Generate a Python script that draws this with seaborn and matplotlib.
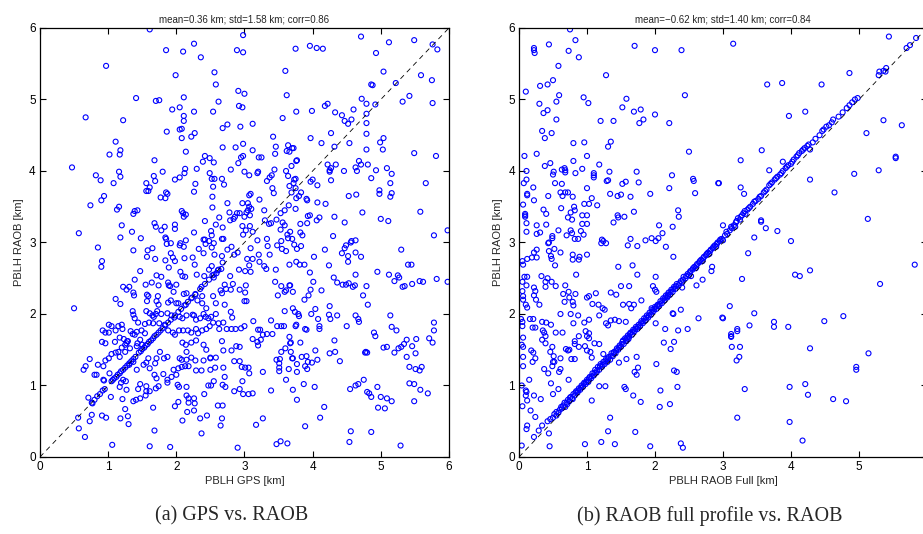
import numpy as np
import pandas as pd
import matplotlib
matplotlib.use('Agg')
import matplotlib.pyplot as plt
import seaborn as sns

# values, (x, y) in km

# panel (a) GPS vs RAOB
gps_upper_left = [
    (1.61, 5.98), (2.98, 5.90), (2.26, 5.78), (1.85, 5.69), (2.10, 5.67), (2.89, 5.69), (2.98, 5.66),
    (2.36, 5.59), (0.97, 5.47), (2.56, 5.38), (1.99, 5.34), (2.58, 5.21), (2.91, 5.12), (3.00, 5.08),
    (1.41, 5.02), (2.11, 5.03), (1.70, 4.98), (1.75, 4.99), (2.62, 4.97), (2.92, 4.91), (2.97, 4.89),
    (1.94, 4.86), (2.05, 4.89), (2.26, 4.83), (2.54, 4.83), (0.67, 4.75), (1.22, 4.71), (2.11, 4.77),
    (2.11, 4.70), (2.75, 4.65), (2.68, 4.60), (2.94, 4.62), (2.05, 4.58), (2.08, 4.59), (1.86, 4.55),
    (2.27, 4.53), (2.22, 4.48), (2.08, 4.46), (1.11, 4.41), (2.98, 4.38), (2.68, 4.33), (2.87, 4.33),
    (1.18, 4.29), (1.02, 4.23), (1.17, 4.23), (2.14, 4.27), (2.42, 4.21), (2.49, 4.18), (2.95, 4.19),
    (2.98, 4.21), (1.68, 4.15), (2.39, 4.13), (2.55, 4.12), (2.91, 4.11), (0.47, 4.05), (2.80, 4.02),
    (3.00, 3.99), (2.13, 4.03), (2.30, 4.03), (1.80, 3.99), (2.12, 3.97), (2.49, 3.97), (0.82, 3.94),
    (1.16, 3.99), (1.18, 3.92), (1.67, 3.93), (2.52, 3.89), (2.56, 3.89), (2.67, 3.89), (0.89, 3.87),
    (1.69, 3.86), (1.98, 3.88), (2.05, 3.91), (1.08, 3.83), (1.56, 3.83), (2.28, 3.82), (2.70, 3.81),
    (1.61, 3.77), (2.54, 3.78), (1.56, 3.72), (1.59, 3.72), (1.85, 3.70), (1.87, 3.68), (2.26, 3.71),
    (0.94, 3.65), (0.90, 3.59), (1.77, 3.63), (1.84, 3.62), (2.53, 3.64), (0.74, 3.52), (1.16, 3.50),
    (1.13, 3.46), (2.75, 3.55), (2.97, 3.55), (2.53, 3.49), (1.39, 3.44), (1.43, 3.45), (1.37, 3.40),
    (2.08, 3.44), (2.10, 3.41), (2.14, 3.39), (2.11, 3.36), (2.78, 3.42), (2.89, 3.41), (2.93, 3.41),
    (2.86, 3.36), (2.84, 3.33), (2.79, 3.31), (2.63, 3.35), (3.00, 3.36), (2.42, 3.30), (2.58, 3.25),
    (1.68, 3.27), (1.70, 3.22), (1.83, 3.22), (1.98, 3.25), (1.98, 3.19), (1.20, 3.24), (1.35, 3.15),
    (1.78, 3.17), (2.26, 3.14), (2.51, 3.16), (2.52, 3.10), (2.68, 3.21), (2.97, 3.23), (2.98, 3.11),
    (0.57, 3.13), (1.18, 3.07), (1.48, 3.06), (1.84, 3.07), (1.85, 3.05), (2.14, 3.03), (2.40, 3.04),
    (2.42, 3.04), (2.67, 3.05), (2.69, 3.05), (1.92, 2.99), (2.06, 2.99), (2.48, 3.02), (2.55, 2.99),
]
gps_upper_right = [
    (4.71, 5.88), (5.12, 5.80), (5.49, 5.83), (5.76, 5.77), (5.83, 5.70), (3.96, 5.75), (4.06, 5.72),
    (4.15, 5.71), (3.75, 5.71), (4.93, 5.65), (3.60, 5.40), (5.04, 5.39), (5.59, 5.34), (5.75, 5.27),
    (4.86, 5.21), (4.88, 5.20), (5.22, 5.23), (3.62, 5.06), (4.72, 5.01), (5.42, 5.05), (5.32, 4.97),
    (5.76, 4.95), (4.79, 4.94), (4.92, 4.93), (4.22, 4.94), (4.18, 4.91), (4.60, 4.86), (3.76, 4.83),
    (3.99, 4.84), (4.33, 4.82), (4.43, 4.78), (4.79, 4.80), (3.56, 4.74), (4.57, 4.72), (4.47, 4.70),
    (4.52, 4.66), (4.79, 4.67), (3.12, 4.66), (4.79, 4.52), (4.27, 4.53), (3.42, 4.48), (3.97, 4.46),
    (5.04, 4.46), (4.99, 4.40), (4.13, 4.39), (4.54, 4.39), (3.64, 4.36), (3.46, 4.34), (3.70, 4.32),
    (3.72, 4.32), (3.66, 4.27), (3.62, 4.28), (3.12, 4.29), (3.45, 4.24), (5.03, 4.30), (4.79, 4.30),
    (4.32, 4.34), (5.49, 4.25), (5.81, 4.21), (3.21, 4.19), (3.25, 4.19), (3.77, 4.15), (3.76, 4.14),
    (3.69, 4.07), (4.68, 4.14), (4.71, 4.09), (4.22, 4.09), (4.34, 4.09), (4.63, 4.05), (4.81, 4.09),
    (4.27, 4.04), (4.25, 4.01), (4.25, 3.99), (4.46, 4.00), (4.65, 4.00), (5.09, 4.04), (4.93, 4.01),
    (3.20, 3.99), (3.19, 3.97), (3.07, 3.94), (3.61, 4.00), (3.44, 4.02), (3.40, 3.94), (3.37, 3.91),
    (3.33, 3.86), (3.64, 3.93), (3.73, 3.88), (3.75, 3.89), (3.72, 3.83), (4.00, 3.88), (3.97, 3.85),
    (4.27, 3.87), (4.86, 3.90), (5.16, 3.96), (5.14, 3.83), (5.66, 3.83), (4.07, 3.80), (3.66, 3.79),
    (3.41, 3.76), (3.75, 3.76), (3.43, 3.69), (3.69, 3.70), (3.83, 3.70), (4.98, 3.73), (4.98, 3.68),
    (5.16, 3.69), (5.14, 3.64), (4.53, 3.65), (4.64, 3.67), (3.76, 3.62), (3.80, 3.65), (3.91, 3.61),
    (3.92, 3.59), (4.07, 3.56), (4.19, 3.54), (3.65, 3.52), (3.75, 3.47), (3.59, 3.45), (3.53, 3.41),
    (3.29, 3.45), (3.22, 3.60), (3.07, 3.66), (3.09, 3.68), (4.32, 3.36), (3.96, 3.38), (3.93, 3.37),
    (4.10, 3.35), (4.06, 3.31), (3.47, 3.32), (3.39, 3.27), (3.36, 3.26), (3.30, 3.31), (3.56, 3.28),
    (3.59, 3.24), (3.82, 3.26), (3.92, 3.27), (4.47, 3.28), (4.73, 3.42), (5.00, 3.33), (5.11, 3.30),
    (5.58, 3.43), (3.53, 3.18), (3.67, 3.15), (3.82, 3.14), (3.85, 3.10), (3.63, 3.11), (3.64, 3.06),
    (3.70, 3.05), (3.12, 3.15), (3.08, 3.23), (3.02, 3.17), (4.30, 3.09), (3.33, 3.05), (3.19, 3.03),
    (3.54, 3.02), (4.57, 3.02), (4.63, 3.03), (5.78, 3.10), (5.98, 3.17), (3.05, 3.55), (3.07, 3.50),
    (3.05, 3.45), (3.03, 3.42), (3.08, 3.38), (3.10, 3.47),
]
gps_lower_left = [
    (0.85, 2.93), (0.91, 2.74), (0.90, 2.66), (1.37, 2.89), (1.58, 2.89), (1.65, 2.92), (1.57, 2.80),
    (1.69, 2.77), (1.86, 2.98), (2.05, 2.96), (2.11, 2.94), (1.92, 2.85), (1.95, 2.79), (1.84, 2.75),
    (1.98, 2.74), (2.12, 2.78), (2.24, 2.79), (2.27, 2.69), (2.33, 2.91), (2.40, 2.85), (2.43, 2.98),
    (2.52, 2.93), (2.56, 2.83), (2.67, 2.81), (2.75, 2.90), (2.81, 2.94), (2.90, 2.86), (2.85, 2.83),
    (2.68, 2.72), (2.52, 2.67), (2.48, 2.62), (1.47, 2.60), (1.89, 2.65), (1.71, 2.54), (1.78, 2.52),
    (2.06, 2.59), (2.09, 2.53), (2.13, 2.52), (2.30, 2.55), (2.41, 2.53), (2.53, 2.54), (2.55, 2.51),
    (2.59, 2.57), (2.61, 2.61), (2.66, 2.63), (2.79, 2.53), (2.92, 2.62), (1.39, 2.48), (1.22, 2.38),
    (1.31, 2.38), (1.27, 2.34), (1.55, 2.41), (1.64, 2.44), (1.74, 2.40), (1.88, 2.44), (1.91, 2.39),
    (2.00, 2.41), (1.89, 2.40), (2.37, 2.38), (2.71, 2.41), (2.73, 2.35), (2.65, 2.33), (2.67, 2.29),
    (2.83, 2.42), (2.80, 2.34), (2.93, 2.34), (1.37, 2.30), (1.38, 2.26), (1.57, 2.27), (1.59, 2.25),
    (1.73, 2.25), (1.96, 2.31), (2.11, 2.28), (2.15, 2.29), (2.28, 2.27), (2.23, 2.23), (2.54, 2.25),
    (2.38, 2.25), (1.11, 2.21), (1.18, 2.14), (1.57, 2.18), (1.71, 2.18), (1.74, 2.13), (1.88, 2.16),
    (1.92, 2.19), (2.00, 2.15), (2.03, 2.15), (2.14, 2.13), (2.31, 2.19), (2.38, 2.15), (2.44, 2.08),
    (2.58, 2.15), (2.71, 2.13), (3.00, 2.18), (0.50, 2.08), (1.36, 2.04), (1.37, 1.99), (1.39, 1.94),
    (1.44, 1.88), (1.56, 2.04), (1.61, 2.01), (1.65, 1.98), (1.70, 2.00), (1.67, 1.96), (1.72, 2.04),
    (1.78, 2.00), (1.87, 2.01), (1.93, 1.98), (1.97, 1.95), (2.05, 1.96), (2.09, 1.94), (2.15, 1.98),
    (2.24, 1.99), (2.26, 1.98), (2.29, 1.92), (2.35, 1.94), (2.40, 2.00), (2.43, 1.96), (2.47, 1.94),
    (2.51, 1.96), (2.58, 2.00), (2.80, 2.03), (2.82, 1.95), (2.69, 1.88), (2.62, 1.87), (2.95, 1.80),
    (3.00, 1.83), (1.01, 1.85), (1.05, 1.83), (1.15, 1.83), (1.20, 1.85), (0.92, 1.77), (0.96, 1.74),
    (1.01, 1.74), (1.11, 1.77), (1.21, 1.79), (1.17, 1.67), (1.23, 1.65), (1.28, 1.62), (1.33, 1.76),
    (1.36, 1.72), (1.39, 1.71), (1.42, 1.75), (1.49, 1.77), (1.54, 1.73), (1.47, 1.64), (1.43, 1.59),
    (1.50, 1.57), (1.54, 1.86), (1.60, 1.88), (1.66, 1.87), (1.75, 1.87), (1.83, 1.85), (1.88, 1.77),
    (1.95, 1.74), (1.98, 1.71), (2.04, 1.77), (2.10, 1.77), (2.17, 1.77), (2.22, 1.74), (2.29, 1.79),
    (2.32, 1.73), (2.38, 1.77), (2.44, 1.79), (2.49, 1.83), (2.54, 1.88), (2.63, 1.79), (2.74, 1.79),
    (2.81, 1.79), (2.87, 1.79), (0.91, 1.61), (0.96, 1.59), (1.10, 1.61), (1.05, 1.44), (1.11, 1.46),
    (1.15, 1.47), (1.17, 1.40), (1.20, 1.53), (1.25, 1.57), (1.27, 1.59), (1.29, 1.62),
]
gps_lower_mid = [
    (0.73, 1.37), (0.67, 1.27), (0.64, 1.22), (0.85, 1.29), (0.93, 1.27), (0.96, 1.35), (1.01, 1.38),
    (0.80, 1.15), (0.83, 1.15), (0.93, 1.08), (0.94, 1.07), (1.02, 1.17), (1.17, 0.98), (1.19, 1.04),
    (1.26, 1.06), (1.22, 1.08), (1.27, 0.94), (1.04, 0.84), (1.21, 0.81), (1.37, 0.78), (1.41, 0.80),
    (1.47, 0.82), (1.44, 0.95), (1.47, 1.02), (1.56, 0.99), (1.56, 0.92), (1.55, 0.86), (1.61, 0.92),
    (1.66, 0.69), (1.70, 0.96), (1.74, 0.99), (1.68, 1.15), (1.71, 1.10), (1.81, 1.16), (1.87, 1.08),
    (1.87, 1.04), (1.93, 1.12), (2.00, 1.15), (2.02, 1.01), (2.04, 0.98), (2.15, 0.98), (2.15, 0.86),
    (2.18, 0.82), (2.18, 0.76), (2.03, 0.77), (1.98, 0.71), (2.26, 0.82), (2.27, 0.75), (2.26, 0.65),
    (2.16, 0.63), (2.09, 0.51), (2.35, 0.54), (2.45, 0.58), (2.41, 0.88), (2.47, 1.00), (2.51, 1.00),
    (2.55, 1.06), (2.61, 0.72), (2.68, 0.72), (2.67, 0.54), (2.65, 0.44), (2.68, 1.01), (2.72, 0.98),
    (2.85, 0.92), (2.93, 0.95), (2.98, 0.88), (2.97, 1.06), (1.96, 1.22), (2.03, 1.24), (2.08, 1.26),
    (2.13, 1.27), (2.18, 1.27), (2.08, 1.36), (2.05, 1.38), (2.15, 1.36), (2.29, 1.21), (2.37, 1.21),
    (2.50, 1.22), (2.57, 1.25), (2.69, 1.25), (2.71, 1.12), (2.58, 1.39), (2.50, 1.38), (2.40, 1.35),
    (2.28, 1.35), (2.22, 1.39), (2.15, 1.47), (2.09, 1.60), (2.14, 1.57), (2.22, 1.60), (2.29, 1.63),
    (2.40, 1.57), (2.44, 1.50), (2.50, 1.39), (2.67, 1.62), (2.69, 1.49), (2.81, 1.49), (2.88, 1.55),
    (2.85, 1.34), (2.93, 1.34), (2.96, 1.26), (2.93, 1.54), (1.71, 1.38), (1.76, 1.47), (1.82, 1.38),
    (1.87, 1.40), (1.59, 1.38), (1.56, 1.32), (1.52, 1.29), (1.42, 1.22), (1.61, 1.24), (1.69, 1.31),
    (1.37, 1.33), (1.31, 1.29), (1.42, 1.55), (1.32, 1.52), (1.25, 1.47), (0.56, 0.55), (0.57, 0.40),
    (0.66, 0.28), (0.73, 0.50), (0.76, 0.59), (0.71, 0.83), (0.77, 0.75), (0.91, 0.58), (0.97, 0.55),
    (1.18, 0.54), (1.29, 0.57), (1.30, 0.46), (1.25, 0.67), (1.61, 0.15), (1.68, 0.37), (1.91, 0.14),
    (1.06, 0.17), (2.37, 0.33), (2.90, 0.13),
]
gps_lower_right = [
    (3.09, 2.92), (3.04, 2.77), (3.12, 2.77), (3.21, 2.83), (3.22, 2.73), (3.07, 2.68), (3.29, 2.67),
    (3.32, 2.63), (3.01, 2.60), (3.09, 2.59), (3.34, 2.95), (3.37, 2.83), (3.48, 2.96), (3.55, 2.91),
    (3.61, 2.88), (3.73, 2.97), (3.77, 2.91), (3.83, 2.95), (3.66, 2.69), (3.76, 2.73), (3.81, 2.69),
    (3.88, 2.69), (3.46, 2.62), (4.02, 2.80), (4.18, 2.90), (4.24, 2.68), (4.47, 2.92), (4.49, 2.96),
    (4.43, 2.85), (4.52, 2.81), (4.52, 2.73), (4.63, 2.86), (4.71, 2.80), (4.56, 3.00), (3.96, 2.58),
    (4.31, 2.51), (4.36, 2.44), (4.44, 2.41), (4.49, 2.41), (4.53, 2.43), (4.59, 2.38), (4.62, 2.40),
    (4.63, 2.55), (4.79, 2.39), (4.95, 2.59), (5.12, 2.55), (5.25, 2.54), (5.27, 2.51), (5.20, 2.46),
    (5.30, 2.90), (5.40, 2.69), (5.45, 2.69), (5.32, 2.38), (5.35, 2.39), (5.46, 2.42), (5.57, 2.46),
    (5.62, 2.45), (5.82, 2.49), (5.98, 2.45), (3.66, 2.40), (3.61, 2.33), (3.59, 2.31), (3.71, 2.31),
    (3.67, 2.40), (3.45, 2.45), (3.49, 2.26), (3.54, 2.39), (3.88, 2.20), (3.94, 2.26), (3.97, 2.34),
    (4.01, 2.45), (4.13, 2.33), (3.71, 2.08), (3.74, 2.03), (3.79, 2.00), (3.80, 1.97), (3.59, 2.04),
    (3.98, 2.00), (4.04, 2.07), (4.08, 1.93), (4.10, 1.83), (4.10, 1.79), (4.25, 2.11), (4.24, 1.99),
    (4.26, 1.93), (4.36, 1.98), (4.50, 1.83), (4.63, 1.98), (4.67, 1.93), (4.68, 1.89), (4.74, 2.26),
    (4.81, 2.13), (5.14, 1.98), (5.16, 1.82), (5.23, 1.77), (4.90, 1.74), (4.92, 1.69), (5.78, 1.88),
    (5.78, 1.77), (5.71, 1.66), (5.76, 1.60), (5.52, 1.65), (5.38, 1.64), (5.34, 1.58), (5.30, 1.54),
    (5.26, 1.52), (5.20, 1.46), (5.46, 1.55), (5.38, 1.40), (5.51, 1.45), (5.04, 1.53), (5.09, 1.54),
    (4.77, 1.46), (4.80, 1.46), (5.42, 1.26), (5.51, 1.23), (5.57, 1.21), (5.60, 1.26), (5.42, 1.03),
    (5.49, 1.02), (5.58, 0.94), (5.69, 0.89), (5.49, 0.78), (3.13, 1.90), (3.20, 1.78), (3.23, 1.78),
    (3.12, 1.65), (3.19, 1.61), (3.20, 1.56), (3.24, 1.64), (3.27, 1.71), (3.33, 1.72), (3.41, 1.72),
    (3.39, 1.91), (3.48, 1.83), (3.54, 1.83), (3.58, 1.83), (3.66, 1.68), (3.68, 1.60), (3.67, 1.59),
    (3.75, 1.83), (3.76, 1.85), (3.82, 1.60), (3.89, 1.79), (3.91, 1.78), (3.60, 1.52), (3.68, 1.47),
    (3.70, 1.38), (3.77, 1.30), (3.77, 1.19), (3.84, 1.40), (3.91, 1.41), (3.93, 1.33), (3.99, 1.32),
    (4.04, 1.49), (4.07, 1.36), (3.89, 1.27), (3.92, 1.23), (3.47, 1.36), (3.52, 1.37), (3.51, 1.31),
    (3.51, 1.25), (3.51, 1.20), (3.65, 1.23), (3.54, 1.47), (3.71, 1.38), (3.27, 1.19), (3.07, 1.17),
    (3.06, 1.25), (3.01, 1.25), (3.12, 0.89), (3.06, 0.88), (3.39, 0.93), (3.61, 1.08), (3.71, 0.94),
    (3.87, 1.02), (4.03, 0.98), (3.77, 0.80), (4.17, 0.70), (4.11, 0.55), (3.89, 0.43), (3.27, 0.54),
    (3.17, 0.45), (3.47, 0.18), (3.53, 0.22), (3.63, 0.19), (4.32, 1.63), (4.25, 1.45), (4.33, 1.47),
    (4.40, 1.34), (4.78, 1.47), (4.55, 0.95), (4.63, 1.00), (4.67, 1.02), (4.75, 1.08), (4.80, 0.91),
    (4.83, 0.89), (4.86, 0.84), (4.95, 0.98), (5.00, 0.84), (5.09, 0.82), (5.16, 0.78), (4.96, 0.69),
    (5.06, 0.68), (4.56, 0.36), (4.54, 0.21), (4.86, 0.35), (5.29, 0.16), (3.02, 2.40), (3.01, 2.30),
    (3.03, 2.18),
]
gps_diag = [
    (0.76, 0.76), (0.80, 0.80), (0.84, 0.85), (0.88, 0.88), (0.92, 0.93), (0.95, 0.95), (1.05, 1.06),
    (1.07, 1.08), (1.09, 1.10), (1.12, 1.12), (1.14, 1.15), (1.17, 1.17), (1.19, 1.20), (1.22, 1.22),
    (1.25, 1.25), (1.28, 1.28), (1.31, 1.31), (1.34, 1.34), (1.37, 1.37), (1.40, 1.40), (1.45, 1.46),
    (1.48, 1.48), (1.50, 1.51), (1.53, 1.53), (1.55, 1.56), (1.58, 1.58), (1.60, 1.61), (1.63, 1.63),
    (1.66, 1.66), (1.68, 1.69), (1.71, 1.71), (1.74, 1.74), (1.77, 1.77), (1.80, 1.80), (1.84, 1.84),
    (1.88, 1.88), (1.92, 1.92), (1.98, 1.98), (2.03, 2.03), (2.07, 2.07), (2.12, 2.12), (2.17, 2.17),
    (2.22, 2.22), (2.28, 2.28), (2.35, 2.35), (2.42, 2.42), (2.48, 2.48), (2.55, 2.55), (2.62, 2.62),
]

# panel (b) RAOB full profile vs RAOB
full_upper = [
    (0.75, 5.98), (0.83, 5.83), (0.22, 5.72), (0.22, 5.69), (0.23, 5.65), (0.44, 5.77), (0.73, 5.68),
    (0.88, 5.59), (1.70, 5.75), (2.00, 5.69), (2.39, 5.69), (0.58, 5.47), (1.28, 5.34), (0.10, 5.11),
    (0.31, 5.19), (0.42, 5.21), (0.50, 5.27), (0.59, 5.06), (0.95, 5.03), (1.02, 4.95), (1.58, 5.01),
    (2.44, 5.06), (0.30, 4.94), (0.55, 4.97), (0.42, 4.85), (0.36, 4.81), (0.55, 4.72), (1.20, 4.70),
    (1.39, 4.70), (1.52, 4.89), (1.69, 4.83), (1.79, 4.86), (1.77, 4.67), (1.83, 4.72), (2.00, 4.79),
    (2.21, 4.67), (0.34, 4.56), (0.48, 4.53), (0.38, 4.46), (0.80, 4.39), (0.96, 4.40), (1.35, 4.41),
    (1.31, 4.34), (0.08, 4.21), (0.26, 4.24), (1.00, 4.21), (2.50, 4.27), (0.38, 4.07), (0.46, 4.11),
    (0.80, 4.14), (1.18, 4.09), (0.11, 4.00), (0.51, 3.99), (0.50, 3.95), (0.63, 4.02), (0.67, 4.04),
    (0.68, 4.01), (0.68, 3.98), (0.83, 3.97), (0.93, 4.03), (1.10, 3.97), (1.10, 3.94), (1.10, 3.91),
    (1.33, 3.99), (1.73, 3.99), (2.25, 3.94), (2.56, 3.89), (2.57, 3.86), (2.93, 3.83), (0.11, 3.88),
    (0.07, 3.83), (0.21, 3.77), (0.53, 3.83), (0.63, 3.82), (1.29, 3.86), (1.31, 3.87), (1.52, 3.82),
    (1.57, 3.85), (1.76, 3.84), (2.21, 3.76), (2.59, 3.69), (1.00, 3.76), (0.12, 3.66), (0.12, 3.68),
    (0.43, 3.65), (0.61, 3.70), (0.68, 3.70), (0.72, 3.70), (0.64, 3.65), (0.79, 3.64), (1.07, 3.62),
    (1.34, 3.68), (1.45, 3.65), (1.50, 3.67), (1.64, 3.64), (1.93, 3.68), (0.22, 3.59), (0.06, 3.53),
    (0.96, 3.54), (1.03, 3.54), (1.15, 3.52), (0.62, 3.48), (0.81, 3.50), (0.36, 3.46), (0.82, 3.45),
    (0.76, 3.42), (0.72, 3.35), (0.78, 3.32), (0.93, 3.38), (1.00, 3.38), (0.09, 3.40), (0.09, 3.38),
    (0.09, 3.36), (0.40, 3.40), (0.11, 3.27), (0.26, 3.24), (0.40, 3.25), (0.93, 3.26), (1.00, 3.26),
    (1.45, 3.38), (1.46, 3.35), (1.55, 3.36), (1.69, 3.43), (1.39, 3.28), (2.34, 3.45), (2.35, 3.36),
    (2.06, 3.24), (2.26, 3.22), (0.11, 3.15), (0.26, 3.12), (0.31, 3.14), (0.58, 3.17), (0.70, 3.10),
    (0.76, 3.17), (0.78, 3.13), (0.91, 3.16), (0.95, 3.11), (0.49, 3.09), (0.49, 3.06), (0.82, 3.05),
    (0.87, 3.05), (1.22, 3.04), (1.24, 3.02), (1.64, 3.05), (1.86, 3.03), (1.95, 3.06), (2.05, 3.06),
    (2.11, 3.13), (2.01, 3.02), (0.44, 3.00),
]
full_lower = [
    (0.05, 2.74), (0.06, 2.69), (0.12, 2.77), (0.19, 2.79), (0.22, 2.86), (0.26, 2.90), (0.26, 2.79),
    (0.43, 2.99), (0.47, 2.81), (0.48, 2.77), (0.44, 2.88), (0.52, 2.91), (0.61, 2.86), (0.53, 2.68),
    (0.79, 2.83), (0.79, 2.76), (0.89, 2.80), (0.88, 2.76), (1.00, 2.83), (0.84, 2.55), (1.21, 2.99),
    (1.28, 2.99), (1.60, 2.96), (1.74, 2.95), (1.46, 2.66), (1.67, 2.68), (1.74, 2.55), (2.16, 2.94),
    (2.27, 2.80), (2.01, 2.52), (0.08, 2.52), (0.12, 2.52), (0.05, 2.45), (0.11, 2.40), (0.22, 2.37),
    (0.24, 2.32), (0.22, 2.26), (0.25, 2.20), (0.05, 2.32), (0.06, 2.25), (0.06, 2.20), (0.10, 2.13),
    (0.12, 2.09), (0.30, 2.13), (0.33, 2.53), (0.39, 2.45), (0.42, 2.50), (0.39, 2.38), (0.48, 2.45),
    (0.54, 2.39), (0.68, 2.40), (0.65, 2.28), (0.73, 2.31), (0.83, 2.28), (0.67, 2.17), (0.79, 2.17),
    (0.74, 2.23), (0.80, 2.12), (1.00, 2.23), (1.03, 2.25), (1.13, 2.29), (1.08, 2.14), (1.17, 2.13),
    (1.23, 2.08), (1.35, 2.30), (1.43, 2.27), (1.50, 2.39), (1.62, 2.39), (1.53, 2.13), (1.62, 2.14),
    (1.69, 2.13), (1.65, 2.08), (1.80, 2.19), (1.95, 2.08), (1.97, 2.39), (2.00, 2.34), (2.02, 2.31),
    (2.19, 2.25), (2.27, 2.00), (2.38, 2.06), (0.61, 2.00), (0.76, 2.00), (0.87, 1.98), (1.18, 1.98),
    (1.26, 2.06), (1.03, 1.92), (0.96, 1.88), (0.80, 1.87), (0.98, 1.76), (1.03, 1.73), (1.28, 1.87),
    (1.35, 1.91), (1.41, 1.92), (1.47, 1.90), (1.57, 1.89), (1.31, 1.84), (0.03, 1.93), (0.05, 1.89),
    (0.05, 1.83), (0.16, 1.93), (0.21, 1.93), (0.20, 1.81), (0.24, 1.81), (0.34, 1.89), (0.40, 1.88),
    (0.47, 1.85), (0.35, 1.77), (0.37, 1.74), (0.39, 1.69), (0.34, 1.64), (0.39, 1.59), (0.54, 1.74),
    (0.64, 1.74), (0.06, 1.67), (0.04, 1.57), (0.06, 1.54), (0.18, 1.49), (0.21, 1.46), (0.24, 1.38),
    (0.20, 1.33), (0.06, 1.40), (0.06, 1.27), (0.49, 1.54), (0.46, 1.47), (0.51, 1.41), (0.52, 1.33),
    (0.61, 1.38), (0.69, 1.51), (0.72, 1.49), (0.74, 1.50), (0.77, 1.37), (0.82, 1.37), (0.88, 1.69),
    (0.82, 1.62), (0.82, 1.58), (0.88, 1.54), (1.00, 1.69), (1.03, 1.66), (0.97, 1.55), (1.00, 1.49),
    (1.05, 1.47), (1.07, 1.39), (1.11, 1.59), (1.18, 1.58), (1.24, 1.44), (0.61, 1.23), (0.37, 1.23),
    (0.59, 1.19), (0.43, 1.17), (0.50, 1.33), (0.49, 1.27), (0.15, 1.08), (0.04, 1.00), (0.10, 0.93),
    (0.11, 0.91), (0.22, 0.86), (0.10, 0.86), (0.12, 0.79), (0.32, 0.81), (0.47, 1.03), (0.50, 0.88),
    (0.58, 0.95), (0.73, 1.08), (0.05, 0.71), (0.17, 0.65), (0.24, 0.56), (0.12, 0.44), (0.11, 0.39),
    (0.22, 0.28), (0.29, 0.37), (0.34, 0.44), (0.44, 0.33), (0.45, 0.15), (0.04, 0.16), (0.97, 0.18),
    (1.21, 0.21), (1.41, 0.18), (1.07, 0.79), (1.18, 0.99), (1.27, 0.99), (1.34, 0.55), (1.31, 0.36),
    (1.55, 0.98), (1.57, 0.95), (1.47, 1.32), (1.58, 1.37), (1.73, 1.40), (1.70, 1.19), (1.73, 1.15),
    (1.75, 1.25), (1.71, 0.35), (1.68, 0.86), (1.79, 0.77), (1.93, 0.15), (2.02, 1.30), (2.08, 0.93),
    (2.07, 0.70), (2.22, 0.74), (2.13, 1.60), (2.23, 1.51), (2.28, 1.61), (2.28, 1.21), (2.33, 0.98),
    (2.32, 1.19), (2.15, 1.79), (2.34, 1.77), (2.48, 1.79), (2.38, 0.19), (2.41, 0.13), (2.01, 1.87),
    (2.64, 1.94), (3.00, 1.94), (2.53, 2.53), (2.70, 2.48), (2.84, 2.66), (2.83, 2.60), (2.61, 2.40),
    (2.40, 2.37), (2.26, 2.01),
]
full_right = [
    (3.15, 5.78), (5.44, 5.88), (3.65, 5.21), (3.87, 5.23), (4.45, 5.21), (4.86, 5.37), (5.30, 5.39),
    (5.39, 5.39), (5.29, 5.34), (3.97, 4.77), (4.21, 4.83), (5.36, 4.71), (5.63, 4.64), (5.11, 4.53),
    (3.26, 4.15), (3.57, 4.29), (3.88, 4.13), (4.28, 3.88), (4.93, 3.96), (5.29, 4.01), (5.54, 4.20),
    (5.54, 4.18), (2.94, 3.83), (3.26, 3.77), (3.31, 3.68), (4.64, 3.70), (3.68, 4.01), (3.56, 3.31),
    (3.56, 3.29), (3.63, 3.20), (3.80, 3.16), (3.46, 3.07), (4.00, 3.02), (5.13, 3.33), (3.00, 3.24),
    (3.37, 2.85), (3.28, 2.49), (4.06, 2.55), (4.13, 2.53), (4.28, 2.61), (5.82, 2.69), (5.31, 2.42),
    (3.10, 2.11), (2.99, 1.95), (3.46, 2.01), (3.39, 1.84), (3.75, 1.89), (3.75, 1.82), (3.96, 1.82),
    (4.49, 1.90), (4.77, 1.97), (3.21, 1.79), (3.21, 1.76), (3.12, 1.72), (3.12, 1.69), (3.12, 1.68),
    (3.13, 1.54), (3.25, 1.54), (4.28, 1.52), (5.14, 1.45), (3.24, 1.40), (3.20, 1.35), (4.96, 1.26),
    (4.96, 1.22), (3.32, 0.95), (3.98, 0.98), (4.21, 1.02), (4.25, 0.87), (4.62, 0.81), (4.81, 0.78),
    (3.21, 0.55), (3.98, 0.49), (4.17, 0.23),
]
full_diag = [
    (0.42, 0.50), (0.46, 0.53), (0.50, 0.55), (0.52, 0.60), (0.55, 0.58), (0.58, 0.62), (0.60, 0.66),
    (0.63, 0.68), (0.65, 0.72), (0.68, 0.70), (0.70, 0.76), (0.72, 0.80), (0.74, 0.78), (0.76, 0.84),
    (0.78, 0.82), (0.80, 0.88), (0.82, 0.86), (0.84, 0.92), (0.86, 0.90), (0.88, 0.96), (0.90, 0.94),
    (0.92, 1.00), (0.94, 0.98), (0.96, 1.04), (0.98, 1.02), (1.00, 1.08), (1.02, 1.05), (1.04, 1.12),
    (1.06, 1.10), (1.08, 1.17), (1.10, 1.14), (1.12, 1.22), (1.14, 1.18), (1.16, 1.26), (1.18, 1.22),
    (1.20, 1.30), (1.22, 1.26), (1.24, 1.33), (1.26, 1.30), (1.28, 1.37), (1.30, 1.33), (1.32, 1.40),
    (1.34, 1.36), (1.36, 1.45), (1.38, 1.41), (1.40, 1.47), (1.42, 1.45), (1.44, 1.52), (1.46, 1.50),
    (1.48, 1.56), (1.50, 1.54), (1.52, 1.61), (1.54, 1.58), (1.56, 1.66), (1.58, 1.62), (1.60, 1.70),
    (1.62, 1.68), (1.64, 1.74), (1.66, 1.71), (1.68, 1.78), (1.70, 1.76), (1.72, 1.82), (1.74, 1.79),
    (1.76, 1.85), (1.78, 1.83), (1.80, 1.90), (1.82, 1.87), (1.84, 1.94), (1.86, 1.91), (1.88, 1.98),
    (1.90, 1.95), (1.92, 2.02), (1.94, 1.99), (1.96, 2.06), (1.98, 2.04), (2.00, 2.10), (2.02, 2.07),
    (2.04, 2.13), (2.06, 2.11), (2.08, 2.18), (2.10, 2.15), (2.12, 2.22), (2.14, 2.19), (2.16, 2.26),
    (2.18, 2.23), (2.20, 2.30), (2.22, 2.27), (2.24, 2.34), (2.26, 2.31), (2.28, 2.38), (2.30, 2.35),
    (2.32, 2.42), (2.35, 2.40), (2.38, 2.46), (2.40, 2.44), (2.42, 2.52), (2.45, 2.50), (2.48, 2.56),
    (2.50, 2.54), (2.52, 2.60), (2.55, 2.62), (2.58, 2.66), (2.60, 2.64), (2.62, 2.70), (2.65, 2.72),
    (2.68, 2.76), (2.70, 2.74), (2.72, 2.80), (2.75, 2.82), (2.78, 2.86), (2.80, 2.84), (2.82, 2.90),
    (2.85, 2.92), (2.88, 2.96), (2.90, 2.94), (2.92, 3.00), (2.95, 3.02), (2.98, 3.05), (3.00, 3.03),
    (3.03, 3.10), (3.06, 3.12), (3.10, 3.17), (3.13, 3.20), (3.16, 3.24), (3.18, 3.22), (3.20, 3.30),
    (3.22, 3.34), (3.25, 3.32), (3.28, 3.38), (3.30, 3.41), (3.33, 3.40), (3.36, 3.46), (3.40, 3.50),
    (3.44, 3.54), (3.48, 3.58), (3.52, 3.61), (3.56, 3.65), (3.60, 3.70), (3.64, 3.74), (3.68, 3.80),
    (3.72, 3.84), (3.76, 3.88), (3.80, 3.92), (3.84, 3.95), (3.88, 4.00), (3.92, 4.04), (3.96, 4.08),
    (4.00, 4.10), (4.04, 4.16), (4.08, 4.20), (4.12, 4.25), (4.16, 4.28), (4.20, 4.32), (4.24, 4.35),
    (4.28, 4.30), (4.32, 4.40), (4.36, 4.45), (4.42, 4.50), (4.48, 4.58), (4.52, 4.62), (4.56, 4.64),
    (4.62, 4.72), (4.70, 4.76), (4.76, 4.82), (4.82, 4.88), (4.86, 4.92), (4.90, 4.96), (4.94, 5.00),
    (4.98, 5.02), (5.36, 5.40), (5.40, 5.44), (5.70, 5.72), (5.75, 5.76), (5.84, 5.86),
]
full_diag_extra = [
    (0.55, 0.63), (0.62, 0.70), (0.67, 0.76), (0.71, 0.74), (0.75, 0.83), (0.79, 0.81), (0.83, 0.90),
    (0.87, 0.93), (0.91, 0.97), (0.95, 1.02), (0.99, 1.05), (1.03, 1.10), (1.07, 1.13), (1.11, 1.18),
    (1.15, 1.21), (1.19, 1.27), (1.23, 1.29), (1.27, 1.34), (1.31, 1.38), (1.35, 1.41), (1.39, 1.46),
    (1.43, 1.49), (1.47, 1.53), (1.51, 1.58), (1.53, 1.63), (1.57, 1.64), (1.59, 1.67), (1.61, 1.65),
    (1.63, 1.72), (1.67, 1.75), (1.71, 1.79), (1.75, 1.82), (1.79, 1.87), (1.83, 1.90), (1.87, 1.95),
    (1.91, 1.98), (1.95, 2.03), (1.99, 2.07), (2.03, 2.11), (2.07, 2.14), (2.11, 2.19), (2.15, 2.23),
    (2.19, 2.27), (2.23, 2.31), (2.27, 2.35), (2.31, 2.39), (2.36, 2.43), (2.41, 2.48), (2.46, 2.53),
    (2.51, 2.58), (2.56, 2.64), (2.61, 2.68), (2.66, 2.74), (2.71, 2.78), (2.76, 2.84), (2.81, 2.88),
    (2.86, 2.94), (2.91, 2.98), (2.96, 3.04), (3.05, 3.15), (3.12, 3.22), (3.19, 3.28), (3.26, 3.36),
    (3.32, 3.44), (3.38, 3.48), (3.46, 3.57), (3.54, 3.64), (3.62, 3.72), (3.70, 3.82), (3.78, 3.90),
    (3.86, 3.97), (3.94, 4.06), (4.02, 4.13), (4.10, 4.22), (4.18, 4.30), (4.26, 4.37), (4.46, 4.56),
    (4.60, 4.68),
]

titles = ['mean=0.36 km; std=1.58 km; corr=0.86', 'mean=\u22120.62 km; std=1.40 km; corr=0.84']
xlabels = ['PBLH GPS [km]', 'PBLH RAOB Full [km]']
ylabel = 'PBLH RAOB [km]'
captions = ['(a) GPS vs. RAOB', '(b) RAOB full profile vs. RAOB']
ticks = [0, 1, 2, 3, 4, 5, 6]
# the right panel is cut off by the page edge, so its last label is not seen
xticklabels = [[str(t) for t in ticks], [str(t) for t in ticks[:-1]] + ['']]


def make_df(*groups):
    pts = [p for g in groups for p in g]
    return pd.DataFrame(pts, columns=['x', 'y'])


gps = make_df(gps_upper_left, gps_upper_right, gps_lower_left, gps_lower_mid, gps_lower_right, gps_diag)
full = make_df(full_upper, full_lower, full_right, full_diag, full_diag_extra)

sns.set_style('ticks')
plt.rcParams['font.family'] = ['Liberation Sans', 'DejaVu Sans']

fig = plt.figure(figsize=(9.23, 5.34), dpi=100)
ax1 = fig.add_axes([0.0433, 0.1442, 0.4431, 0.8034])
ax2 = fig.add_axes([0.5623, 0.1442, 0.4420, 0.8034])
cap_x = [232 / 923, 710 / 923]

for ax, df, title, xlab, xtl, cap, cx in zip([ax1, ax2], [gps, full], titles, xlabels,
                                             xticklabels, captions, cap_x):
    sns.scatterplot(data=df, x='x', y='y', ax=ax, marker='o', s=13,
                    facecolors='none', edgecolor='#0000ff', linewidth=0.8, zorder=2)
    ax.axline((0, 0), slope=1, color='k', lw=0.6, ls=(0, (6, 5)), zorder=3)
    ax.set_xlim(ticks[0], ticks[-1])
    ax.set_ylim(ticks[0], ticks[-1])
    ax.set_xticks(ticks)
    ax.set_xticklabels(xtl)
    ax.set_yticks(ticks)
    ax.tick_params(direction='in', top=True, right=True, length=4, width=0.8,
                   labelsize=8.5, pad=3, colors='black')
    for sp in ax.spines.values():
        sp.set_visible(True)
        sp.set_color('black')
        sp.set_linewidth(0.9)
    ax.set_title(title, fontsize=7, pad=4)
    ax.set_xlabel(xlab, fontsize=8, labelpad=2)
    ax.set_ylabel(ylabel, fontsize=8, labelpad=4)
    fig.text(cx, 1 - 516 / 534, cap, ha='center', va='center',
             family=['Liberation Serif', 'DejaVu Serif'], fontsize=14.5)

fig.savefig('out.png', dpi=100)
